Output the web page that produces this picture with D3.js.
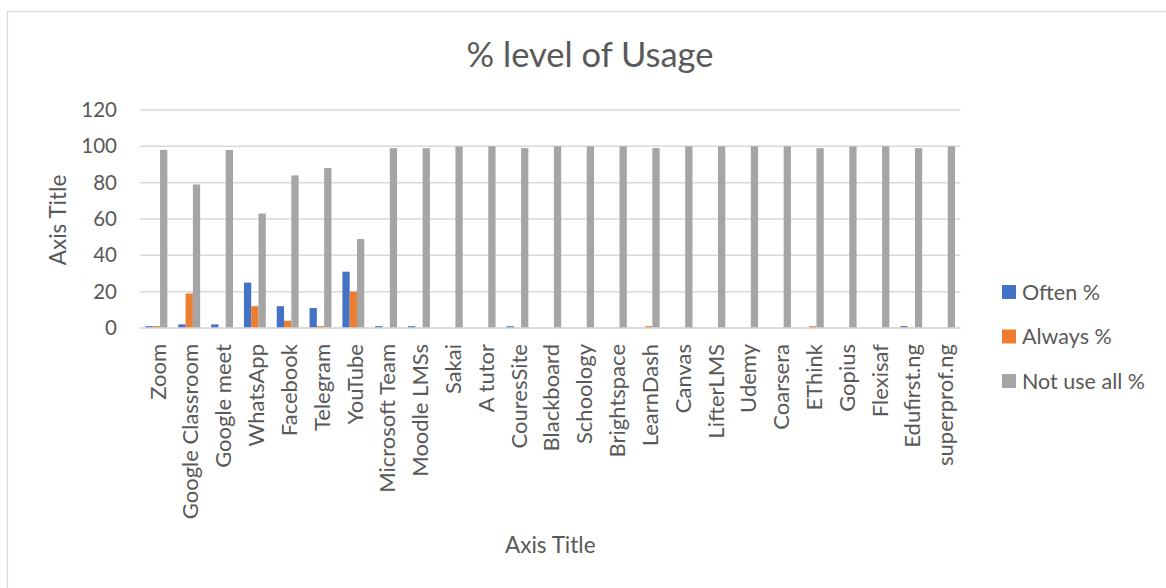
<!DOCTYPE html>
<html>
<head>
<meta charset="utf-8">
<script src="https://cdn.jsdelivr.net/npm/d3@7"></script>
<style>
  body { margin: 0; background: #fff; }
  text { font-family: Lato, "Open Sans", sans-serif; fill: #595959; }
</style>
</head>
<body>
<div id="chart"></div>
<script>
const categories = ['Zoom', 'Google Classroom', 'Google meet', 'WhatsApp', 'Facebook', 'Telegram', 'YouTube',
    'Microsoft Team', 'Moodle LMSs', 'Sakai', 'A tutor', 'CouresSite', 'Blackboard', 'Schoology', 'Brightspace',
    'LearnDash', 'Canvas', 'LifterLMS', 'Udemy', 'Coarsera', 'EThink', 'Gopius', 'Flexisaf', 'Edufirst.ng', 'superprof.ng'];
const often = [1, 2, 2, 25, 12, 11, 31, 1, 1, 0, 0, 1, 0, 0, 0, 0, 0, 0, 0, 0, 0, 0, 0, 1, 0];
const always = [1, 19, 0, 12, 4, 1, 20, 0, 0, 0, 0, 0, 0, 0, 0, 1, 0, 0, 0, 0, 1, 0, 0, 0, 0];
const notUse = [98, 79, 98, 63, 84, 88, 49, 99, 99, 100, 100, 99, 100, 100, 100, 99, 100, 100, 100, 100, 99, 100, 100, 99, 100];
const seriesNames = ['Often %', 'Always %', 'Not use all %'];
const yTicks = [0, 20, 40, 60, 80, 100, 120];

const svgWidth = 1166;
const svgHeight = 588;
const margin = { top: 110, right: 205.5, bottom: 260, left: 140 };
const width = svgWidth - margin.left - margin.right;
const height = svgHeight - margin.top - margin.bottom;

const colors = ['#4472C4', '#ED7D31', '#A5A5A5'];
const series = [often, always, notUse].map((values, i) => ({ name: seriesNames[i], values }));

const svg = d3.select('#chart')
    .append('svg')
    .attr('width', svgWidth)
    .attr('height', svgHeight);

// chart frame (runs off the right and bottom edges)
svg.append('rect')
    .attr('x', 7.5)
    .attr('y', 11.5)
    .attr('width', 1200)
    .attr('height', 620)
    .attr('fill', 'none')
    .attr('stroke', '#D9D9D9')
    .attr('stroke-width', 1.3);

svg.append('text')
    .attr('x', 590)
    .attr('y', 67)
    .attr('text-anchor', 'middle')
    .style('font-size', '34.5px')
    .text('% level of Usage');

const bounds = svg.append('g')
    .attr('transform', `translate(${margin.left}, ${margin.top})`);

const xScale = d3.scaleBand()
    .domain(categories)
    .range([0, width])
    .paddingInner(1 / 3)
    .paddingOuter(1 / 6);

const xInner = d3.scaleBand()
    .domain(seriesNames)
    .range([0, xScale.bandwidth()]);

const yScale = d3.scaleLinear()
    .domain([0, 120])
    .range([height, 0]);

// gridlines
bounds.append('g')
    .selectAll('line')
    .data(yTicks)
    .enter()
    .append('line')
    .attr('x1', 0)
    .attr('x2', width)
    .attr('y1', d => yScale(d))
    .attr('y2', d => yScale(d))
    .attr('stroke', '#D9D9D9')
    .attr('stroke-width', 1.5);

const yAxisGroup = bounds.append('g')
    .attr('class', 'y axis')
    .call(d3.axisLeft(yScale).tickValues(yTicks).tickSize(0).tickPadding(23));
yAxisGroup.select('.domain').remove();
yAxisGroup.selectAll('text')
    .style('font-size', '20.5px')
    .style('fill', '#595959')
    .style('font-family', 'Lato, "Open Sans", sans-serif');

bounds.selectAll('.cat')
    .data(categories)
    .enter()
    .append('g')
    .attr('class', 'cat')
    .attr('transform', d => `translate(${xScale(d)}, 0)`)
    .selectAll('rect')
    .data((d, i) => series.map(s => ({ name: s.name, value: s.values[i] })))
    .enter()
    .append('rect')
    .attr('x', d => xInner(d.name))
    .attr('width', xInner.bandwidth())
    .attr('y', d => yScale(d.value))
    .attr('height', d => height - yScale(d.value))
    .attr('fill', (d, i) => colors[i]);

// baseline
bounds.append('line')
    .attr('x1', 0)
    .attr('x2', width)
    .attr('y1', height)
    .attr('y2', height)
    .attr('stroke', '#D9D9D9')
    .attr('stroke-width', 1.5);

const xAxisGroup = bounds.append('g')
    .attr('class', 'x axis')
    .attr('transform', `translate(0, ${height})`)
    .call(d3.axisBottom(xScale).tickSize(0).tickPadding(0));
xAxisGroup.select('.domain').remove();
xAxisGroup.selectAll('text')
    .attr('transform', 'rotate(-90)')
    .attr('x', -16)
    .attr('y', 1.5)
    .attr('dy', '0.35em')
    .attr('text-anchor', 'end')
    .style('font-size', '22px')
    .style('fill', '#595959')
    .style('font-family', 'Lato, "Open Sans", sans-serif');

bounds.append('text')
    .attr('x', width / 2)
    .attr('y', height + 225)
    .attr('text-anchor', 'middle')
    .style('font-size', '22.5px')
    .text('Axis Title');

bounds.append('text')
    .attr('transform', `translate(${58 - margin.left}, ${height / 2 + 1}) rotate(-90)`)
    .attr('text-anchor', 'middle')
    .attr('dy', '0.35em')
    .style('font-size', '22.5px')
    .text('Axis Title');

const legend = svg.append('g')
    .selectAll('g')
    .data(seriesNames)
    .enter()
    .append('g')
    .attr('transform', (d, i) => `translate(1002, ${292 + i * 44.5})`);

legend.append('rect')
    .attr('x', 0)
    .attr('y', -7)
    .attr('width', 14)
    .attr('height', 14)
    .attr('fill', (d, i) => colors[i]);

legend.append('text')
    .attr('x', 20)
    .attr('dy', '0.35em')
    .style('font-size', '21.5px')
    .text(d => d);
</script>
</body>
</html>
